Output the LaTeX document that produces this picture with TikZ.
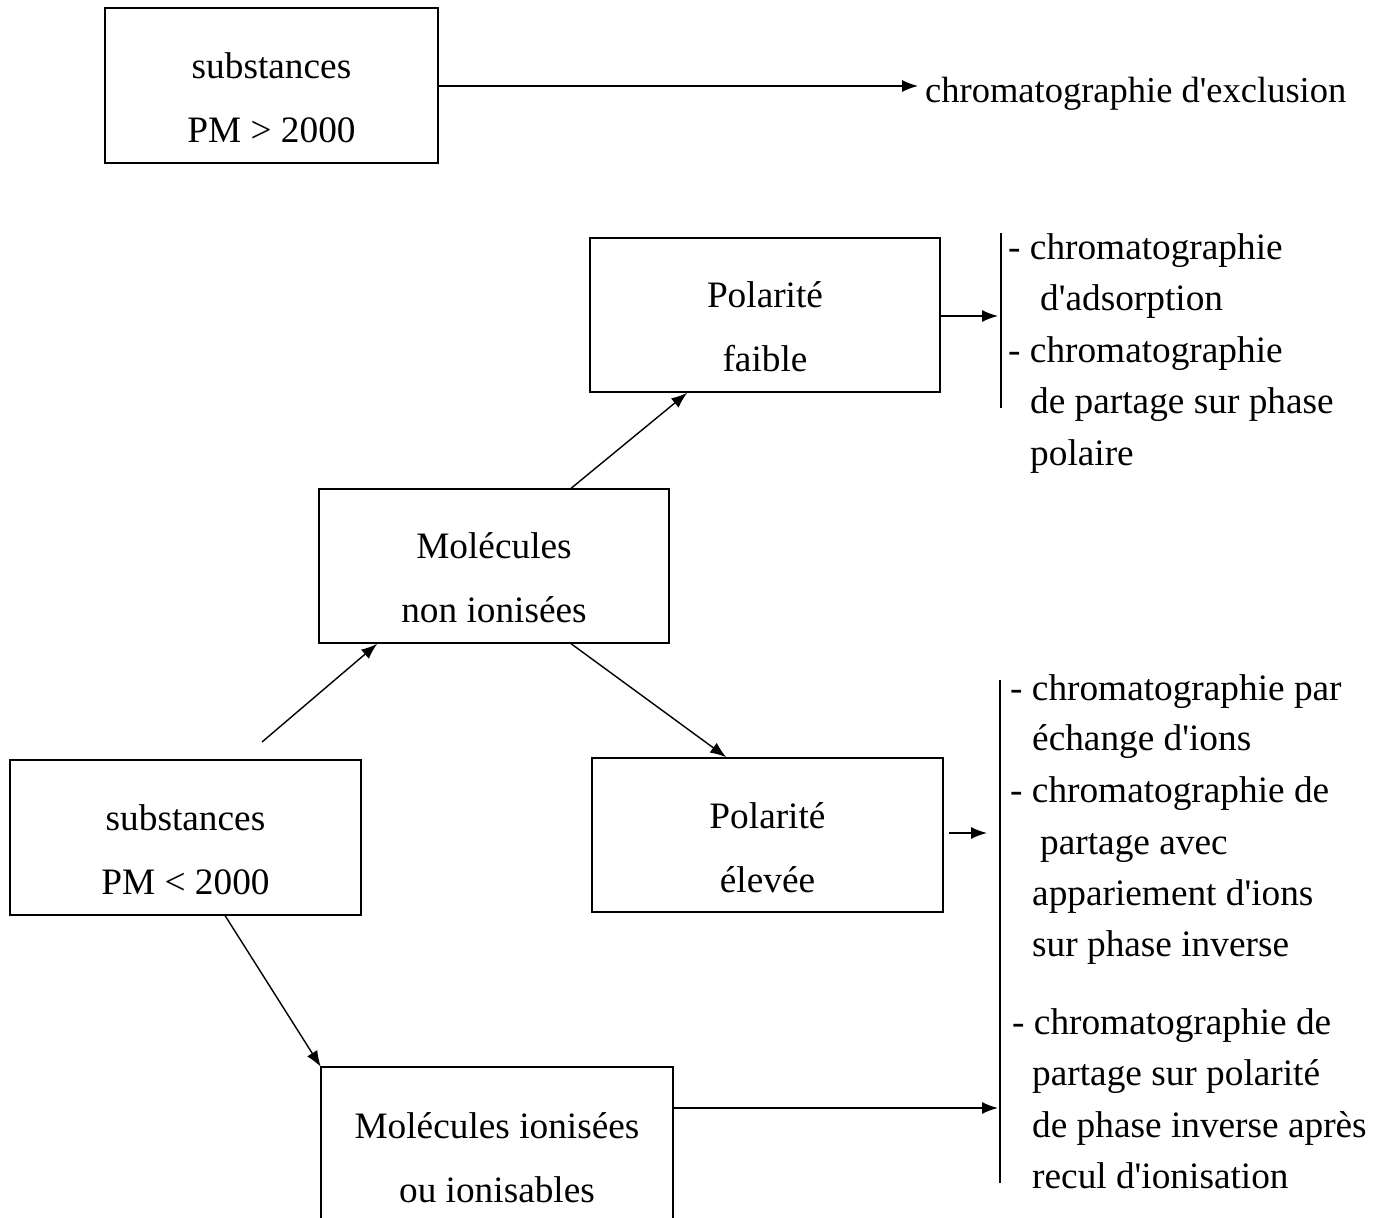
\documentclass[tikz,border=0pt]{standalone}
\usepackage{fontspec}
\setmainfont{Liberation Serif}[Ligatures=TeXOff]
\usetikzlibrary{arrows.meta}
\begin{document}
\begin{tikzpicture}[x=1pt,y=-1pt,
  font=\fontsize{37.3}{64}\selectfont,
  box/.style={draw, line width=1.6pt, inner sep=0pt},
  boxtxt/.style={align=center, inner sep=0pt},
  arr/.style={-{Latex[length=16pt,width=12pt]}, line width=1.4pt},
  vline/.style={line width=1.8pt},
  txt/.style={anchor=base west, inner sep=0pt}]
\useasboundingbox (0,0) rectangle (1379,1218);

% boxes
\node[box, minimum width=333pt, minimum height=155pt] (b1) at (271.5,85.5) {};
\node[boxtxt] (b1t) at (271.5,98) {substances\\PM > 2000};

\node[box, minimum width=350pt, minimum height=154pt] (pf) at (765,315) {};
\node[boxtxt] (pft) at (765,327) {Polarité\\faible};

\node[box, minimum width=350pt, minimum height=154pt] (mn) at (494,566) {};
\node[boxtxt] (mnt) at (494,578) {Molécules\\non ionisées};

\node[box, minimum width=351pt, minimum height=154pt] (pe) at (767.5,835) {};
\node[boxtxt] (pet) at (767.5,847.5) {Polarité\\élevée};

\node[box, minimum width=351pt, minimum height=155pt] (pm) at (185.5,837.5) {};
\node[boxtxt] (pmt) at (185.5,850) {substances\\PM < 2000};

\node[inner sep=0pt, minimum width=352pt, minimum height=186pt] (ion) at (497,1160) {};
\draw[line width=1.6pt] (ion.south west) -- (ion.north west) -- (ion.north east) -- (ion.south east);
\node[boxtxt] (iont) at (497,1157.5) {Molécules ionisées\\ou ionisables};

% right texts
\node[txt, font=\fontsize{36.5}{52}\selectfont] (excl) at (925,102) {chromatographie d'exclusion};

\node[txt] (r1) at (1008,259) {- chromatographie};
\node[txt] (r2) at (1040,310) {d'adsorption};
\node[txt] (r3) at (1008,362) {- chromatographie};
\node[txt] (r4) at (1030,413) {de partage sur phase};
\node[txt] (r5) at (1030,465) {polaire};

\node[txt] (s1) at (1010,700) {- chromatographie par};
\node[txt] (s2) at (1032,750) {échange d'ions};
\node[txt] (s3) at (1010,802) {- chromatographie de};
\node[txt] (s4) at (1040,854) {partage avec};
\node[txt] (s5) at (1032,905) {appariement d'ions};
\node[txt] (s6) at (1032,956) {sur phase inverse};
\node[txt] (s7) at (1012,1034) {- chromatographie de};
\node[txt] (s8) at (1032,1085) {partage sur polarité};
\node[txt] (s9) at (1032,1137) {de phase inverse après};
\node[txt] (s10) at (1032,1188) {recul d'ionisation};

% vertical bars
\coordinate (v1a) at (1001,233);
\coordinate (v1b) at (1001,408);
\draw[vline] (v1a) -- (v1b);
\coordinate (v2a) at (1000,680);
\coordinate (v2b) at (1000,1183);
\draw[vline] (v2a) -- (v2b);

% arrow targets / free ends
\coordinate (e1) at (918,86);
\coordinate (e2) at (998,316);
\coordinate (e3) at (987,833);
\coordinate (e4) at (998,1108);
\coordinate (st) at (262,742);

% connectors
\draw[arr] (b1.east |- e1) -- (e1);
\draw[arr] (pf.east |- e2) -- (e2);
\draw[arr] (st) -- ([xshift=59pt]mn.south west);
\draw[arr] ([xshift=253pt]mn.north west) -- ([xshift=98pt]pf.south west);
\draw[arr] ([xshift=253pt]mn.south west) -- ([xshift=135pt]pe.north west);
\draw[arr] ([xshift=5pt]pe.east |- e3) -- (e3);
\draw[arr] ([xshift=216pt]pm.south west) -- (ion.north west);
\draw[arr] (ion.east |- e4) -- (e4);
\end{tikzpicture}
\end{document}
